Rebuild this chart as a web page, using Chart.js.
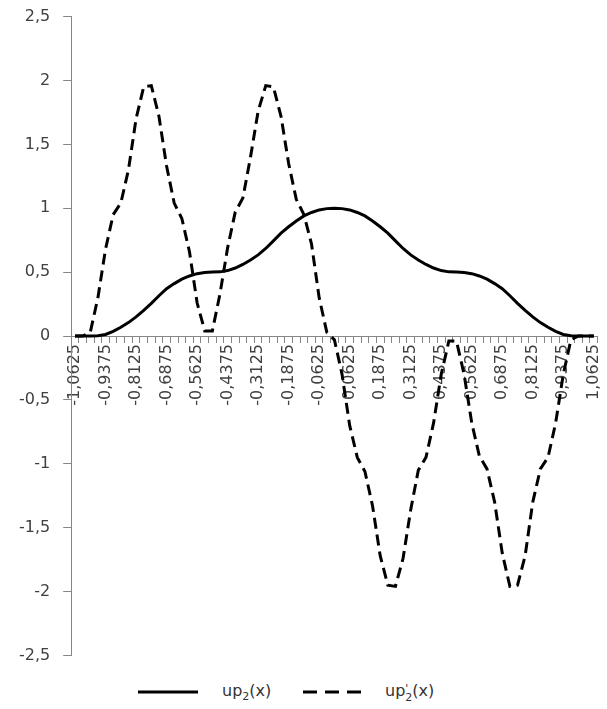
<!DOCTYPE html>
<html>
<head>
<meta charset="utf-8">
<script src="https://cdn.jsdelivr.net/npm/chart.js@4.4.1/dist/chart.umd.min.js"></script>
<style>
    body { margin: 0; background: #fff; overflow: hidden; }
    #wrap { position: relative; width: 607px; height: 709px; overflow: hidden; }
    #box { position: absolute; left: 0; top: -6px; width: 607px; height: 684px; }
    .legend { position: absolute; font-family: "DejaVu Sans", sans-serif; font-size: 16px; color: #333; line-height: 18px; white-space: nowrap; }
    .legend sub { font-size: 11px; vertical-align: -4px; line-height: 0; }
    .stack { display: inline-block; vertical-align: -5px; font-size: 11px; line-height: 9px; text-align: left; }
    .stack span { display: block; }
</style>
</head>
<body>
<div id="wrap">
    <div id="box"><canvas id="myChartUp"></canvas></div>
    <svg class="legend" style="left:138px; top:686px;" width="60" height="12">
        <line x1="0" y1="6" x2="60" y2="6" stroke="#000" stroke-width="3"></line>
    </svg>
    <div class="legend" style="left:222px; top:682px;">up<sub>2</sub>(x)</div>
    <svg class="legend" style="left:303px; top:686px;" width="58" height="12">
        <line x1="0" y1="6" x2="58" y2="6" stroke="#000" stroke-width="3" stroke-dasharray="14 8"></line>
    </svg>
    <div class="legend" style="left:385px; top:682px;">up<span class="stack"><span>'</span><span>2</span></span>(x)</div>
</div>
<script>
// x = -1.0625 ... 1.0625, step 1/32
const xValues = [
    -1.0625, -1.03125, -1, -0.96875, -0.9375, -0.90625, -0.875, -0.84375,
    -0.8125, -0.78125, -0.75, -0.71875, -0.6875, -0.65625, -0.625, -0.59375,
    -0.5625, -0.53125, -0.5, -0.46875, -0.4375, -0.40625, -0.375, -0.34375,
    -0.3125, -0.28125, -0.25, -0.21875, -0.1875, -0.15625, -0.125, -0.09375,
    -0.0625, -0.03125, 0, 0.03125, 0.0625, 0.09375, 0.125, 0.15625,
    0.1875, 0.21875, 0.25, 0.28125, 0.3125, 0.34375, 0.375, 0.40625,
    0.4375, 0.46875, 0.5, 0.53125, 0.5625, 0.59375, 0.625, 0.65625,
    0.6875, 0.71875, 0.75, 0.78125, 0.8125, 0.84375, 0.875, 0.90625,
    0.9375, 0.96875, 1, 1.03125, 1.0625
];

// labels Excel actually shows (every 4th category)
const xTickLabels = [
    '-1,0625', '-0,9375', '-0,8125', '-0,6875', '-0,5625', '-0,4375',
    '-0,3125', '-0,1875', '-0,0625', '0,0625', '0,1875', '0,3125',
    '0,4375', '0,5625', '0,6875', '0,8125', '0,9375', '1,0625'
];

const yTicks = [-2.5, -2, -1.5, -1, -0.5, 0, 0.5, 1, 1.5, 2, 2.5];

// up2(x)
const up2 = [
    0, 0, 0, 0.002, 0.012, 0.036, 0.068, 0.105, 0.15, 0.2,
    0.255, 0.315, 0.37, 0.41, 0.445, 0.47, 0.488, 0.497, 0.5, 0.502,
    0.512, 0.532, 0.56, 0.595, 0.635, 0.685, 0.745, 0.805, 0.855, 0.9,
    0.94, 0.967, 0.987, 0.997, 1, 0.997, 0.987, 0.967, 0.94, 0.9,
    0.855, 0.805, 0.745, 0.685, 0.635, 0.595, 0.56, 0.532, 0.512, 0.502,
    0.5, 0.497, 0.488, 0.47, 0.445, 0.41, 0.37, 0.315, 0.255, 0.2,
    0.15, 0.105, 0.068, 0.036, 0.012, 0.002, 0, 0, 0
];

// up'2(x)
const up2d = [
    0, 0, 0.03, 0.3, 0.68, 0.95, 1.04, 1.3, 1.7, 1.95,
    1.96, 1.72, 1.33, 1.04, 0.92, 0.66, 0.26, 0.04, 0.04, 0.33,
    0.69, 0.97, 1.08, 1.4, 1.76, 1.96, 1.95, 1.72, 1.35, 1.07,
    0.95, 0.72, 0.3, 0.03, -0.03, -0.3, -0.7, -0.95, -1.06, -1.33,
    -1.72, -1.95, -1.96, -1.74, -1.36, -1.05, -0.95, -0.68, -0.3, -0.04,
    -0.04, -0.3, -0.68, -0.94, -1.04, -1.3, -1.7, -1.96, -1.95, -1.72,
    -1.3, -1.04, -0.95, -0.68, -0.3, -0.03, 0, 0, 0
];

const axisGrey = '#868686';
const textGrey = '#404040';

const ctxUp = document.getElementById("myChartUp");

new Chart(ctxUp, {
    type: 'line',
    data: {
        labels: xValues,
        datasets: [{
            label: 'up2(x)',
            data: up2,
            borderColor: '#000000',
            borderWidth: 3,
            pointRadius: 0,
            tension: 0
        }, {
            label: "up'2(x)",
            data: up2d,
            borderColor: '#000000',
            borderWidth: 3,
            borderDash: [11, 6],
            pointRadius: 0,
            tension: 0
        }]
    },
    options: {
        responsive: true,
        maintainAspectRatio: false,
        animation: false,
        layout: {
            padding: { top: 0, bottom: 0, left: 6, right: 0 }
        },
        scales: {
            x: {
                type: 'category',
                position: { y: 0 },
                offset: true,
                grid: {
                    display: true,
                    offset: true,
                    drawOnChartArea: false,
                    tickLength: 6,
                    color: axisGrey
                },
                border: { color: axisGrey, width: 1 },
                ticks: {
                    autoSkip: false,
                    minRotation: 90,
                    maxRotation: 90,
                    padding: 2,
                    color: textGrey,
                    font: { family: 'DejaVu Sans', size: 16, lineHeight: 0.7 },
                    callback: function (value, index) {
                        return index % 4 === 0 ? xTickLabels[index / 4] : '';
                    }
                }
            },
            y: {
                min: -2.5,
                max: 2.5,
                afterBuildTicks: function (axis) {
                    axis.ticks = yTicks.map(v => ({ value: v }));
                },
                grid: {
                    drawOnChartArea: false,
                    tickLength: 8,
                    color: axisGrey
                },
                border: { color: axisGrey, width: 1 },
                ticks: {
                    padding: 13,
                    color: textGrey,
                    font: { family: 'DejaVu Sans', size: 16 },
                    callback: function (value) {
                        return String(value).replace('.', ',');
                    }
                }
            }
        },
        plugins: {
            legend: {
                display: false
            },
            tooltip: {
                enabled: false
            }
        }
    }
});
</script>
</body>
</html>
